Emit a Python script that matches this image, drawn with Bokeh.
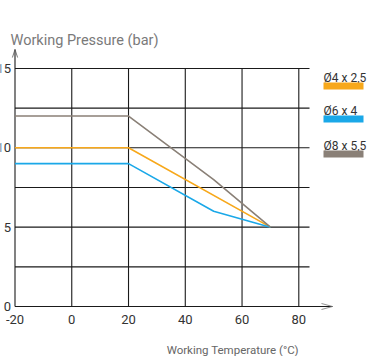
from bokeh.plotting import figure
from bokeh.models import Range1d, Label
from bokeh.core.properties import value
from bokeh.embed import file_html
from bokeh.resources import INLINE

# ---- data ----
series_names = ["Ø4 x 2,5", "Ø6 x 4", "Ø8 x 5,5"]
series_colors = ["#F7A81B", "#1AA8E8", "#8A8077"]
temps_4 = [-20, 20, 70]
press_4 = [10, 10, 5]
temps_6 = [-20, 20, 50, 70]
press_6 = [9, 9, 6, 5]
temps_8 = [-20, 20, 50, 70]
press_8 = [12, 12, 8, 5]
x_ticks = [-20, 0, 20, 40, 60, 80]
x_tick_labels = ["-20", "0", "20", "40", "60", "80"]
y_ticks = [0, 5, 10, 15]
y_tick_labels = ["0", "5", "10", "15"]
y_grid = [2.5, 5, 7.5, 10, 12.5, 15]
x_grid = [0, 20, 40, 60, 80]
y_title = "Working Pressure (bar)"
x_title = "Working Temperature (°C)"

W, H = 367, 356
# pixel mapping (page coordinates)
X0PX, XSCALE = 14.5, 2.838   # px of x=-20, px per degree
Y0PX, YSCALE = 306.0, 15.87  # px of y=0, px per bar


def dx(px):
    return (px - X0PX) / XSCALE - 20


def dy(py):
    return (Y0PX - py) / YSCALE


p = figure(width=W, height=H, output_backend="svg", toolbar_location=None,
           x_range=Range1d(dx(0), dx(W)), y_range=Range1d(dy(H), dy(0)),
           x_axis_location=None, y_axis_location=None, min_border=0)
p.outline_line_color = None
p.grid.visible = False
p.background_fill_color = "white"
p.border_fill_color = "white"

SANS = "Roboto"
FONT = value(SANS)
GRID = "#1a1a1a"

# horizontal grid lines
xg_end = dx(309)
p.segment(x0=[-20] * len(y_grid), y0=y_grid, x1=[xg_end] * len(y_grid), y1=y_grid,
          line_color=GRID, line_width=1.1)
# vertical grid lines
p.segment(x0=x_grid, y0=[0] * len(x_grid), x1=x_grid, y1=[15] * len(x_grid),
          line_color=GRID, line_width=1.1)

# axes with arrows
ytip = dy(49)
xtip = dx(332)
p.segment(x0=[-20, -20], y0=[0, 0], x1=[-20, xtip], y1=[ytip, 0],
          line_color=GRID, line_width=1.1)
adx = 2.6 / XSCALE
ady = 8 / YSCALE
p.multi_line(xs=[[-20 - adx, -20, -20 + adx]], ys=[[ytip - ady, ytip, ytip - ady]],
             line_color="#555555", line_width=0.8)
bdx = 11 / XSCALE
bdy = 3 / YSCALE
p.multi_line(xs=[[xtip - bdx, xtip, xtip - bdx]], ys=[[bdy, 0, -bdy]],
             line_color="#777777", line_width=0.8)

# data lines
for xs, ys, c in [(temps_4, press_4, series_colors[0]),
                  (temps_6, press_6, series_colors[1]),
                  (temps_8, press_8, series_colors[2])]:
    p.line(xs, ys, line_color=c, line_width=1.6)

# tick labels
p.text(x=[-20] * len(y_ticks), y=y_ticks, text=y_tick_labels, x_offset=-4,
       text_align="right", text_baseline="middle", text_font=FONT,
       text_font_size="13px", text_color="#333333")
p.text(x=x_ticks, y=[0] * len(x_ticks), text=x_tick_labels, y_offset=8,
       text_align="center", text_baseline="top", text_font=FONT,
       text_font_size="13px", text_color="#333333")

# titles
p.add_layout(Label(x=dx(10), y=dy(40), text=y_title, text_font=SANS,
                   text_font_size="14.5px", text_color="#7a7a7a",
                   text_baseline="alphabetic", text_align="left"))
p.add_layout(Label(x=80, y=dy(349), text=x_title, text_font=SANS,
                   text_font_size="11.5px", text_color="#666666",
                   text_baseline="alphabetic", text_align="right"))

# legend
leg_x0, leg_x1 = dx(323), dx(363)
leg_base = [77, 110, 145]
p.text(x=[leg_x0] * 3, y=[dy(b) for b in leg_base], text=series_names,
       text_align="left", text_baseline="alphabetic", text_font=FONT,
       text_font_size="12px", text_color="#333333")
p.quad(left=[leg_x0] * 3, right=[leg_x1] * 3,
       top=[dy(b + 5) for b in leg_base], bottom=[dy(b + 12) for b in leg_base],
       fill_color=series_colors, line_color=None)

open("out.html", "w").write(file_html(p, INLINE))
